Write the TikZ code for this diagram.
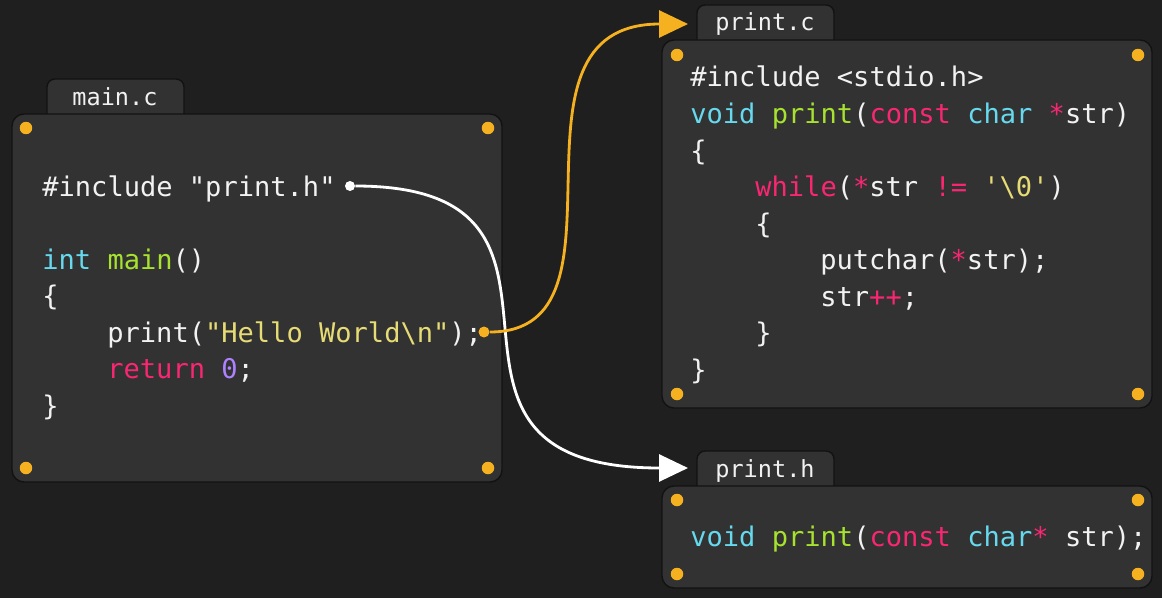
\documentclass[tikz,border=0pt]{standalone}
\usepackage{fontspec}
\setmonofont{DejaVu Sans Mono}
\usetikzlibrary{arrows.meta}
\definecolor{bkg}{HTML}{1F1F1F}
\definecolor{panel}{HTML}{323232}
\definecolor{edge}{HTML}{121212}
\definecolor{dotc}{HTML}{F5B120}
\definecolor{cyn}{HTML}{66D9EF}
\definecolor{grn}{HTML}{A6E22E}
\definecolor{pnk}{HTML}{F92672}
\definecolor{ylw}{HTML}{E6DB74}
\definecolor{prp}{HTML}{AE81FF}
\definecolor{txt}{HTML}{F2F2F2}
\newcommand{\cy}[1]{\textcolor{cyn}{#1}}
\newcommand{\gr}[1]{\textcolor{grn}{#1}}
\newcommand{\pk}[1]{\textcolor{pnk}{#1}}
\newcommand{\ye}[1]{\textcolor{ylw}{#1}}
\newcommand{\pu}[1]{\textcolor{prp}{#1}}
\begin{document}
\begin{tikzpicture}[x=0.02cm,y=-0.02cm]
\tikzstyle{panelbox}=[fill=panel,draw=edge,line width=0.8pt,rounded corners=0.24cm]
\tikzstyle{tabbox}=[fill=panel,draw=edge,line width=0.8pt,rounded corners=0.16cm]
\tikzstyle{corner}=[circle,fill=dotc,inner sep=0pt,minimum size=0.25cm]
\tikzstyle{code}=[anchor=base west,inner sep=0pt,text=txt,font=\ttfamily\fontsize{15.4}{18}\selectfont]
\tikzstyle{tablabel}=[anchor=base,inner sep=0pt,text=txt,font=\ttfamily\fontsize{13.4}{16}\selectfont]
\tikzstyle{arrow}=[line width=1.6pt,-{Triangle[length=0.58cm,width=0.54cm]}]
\fill [bkg] (0,0) rectangle (1162,598);
% main.c
\draw [tabbox] (47,118) -- (47,79) -- (184,79) -- (184,118);
\node [tablabel] (tmain) at (115,105.5) {main.c};
\draw [panelbox] (12,114) rectangle (502,482);
\node [corner] (m1) at (26,128) {};
\node [corner] (m2) at (488,128) {};
\node [corner] (m3) at (26,468) {};
\node [corner] (m4) at (488,468) {};
\node [code] (minc) at (42,196) {\#include "print.h"};
\node [code] (mint) at (42,269) {\cy{int} \gr{main}()};
\node [code] (mopen) at (42,305.5) {\{};
\node [code] (mprint) at (107,342) {print(\ye{"Hello World\textbackslash n"});};
\node [code] (mret) at (107,378.5) {\pk{return} \pu{0};};
\node [code] (mclose) at (42,415) {\}};
% print.c
\draw [tabbox] (697,44) -- (697,5) -- (834,5) -- (834,44);
\node [tablabel] (tpc) at (765,31) {print.c};
\draw [panelbox] (662,40) rectangle (1152,408);
\node [corner] (c1) at (677,55) {};
\node [corner] (c2) at (1138,55) {};
\node [corner] (c3) at (677,394) {};
\node [corner] (c4) at (1138,394) {};
\node [code] (cinc) at (690,87) {\#include <stdio.h>};
\node [code] (cdef) at (690,123.5) {\cy{void} \gr{print}(\pk{const} \cy{char} \pk{*}str)};
\node [code] (copen) at (690,160) {\{};
\node [code] (cwhile) at (755,196.5) {\pk{while}(\pk{*}str \pk{!=} \ye{'\textbackslash 0'})};
\node [code] (copen2) at (755,233) {\{};
\node [code] (cput) at (820,269.5) {putchar(\pk{*}str);};
\node [code] (cinc2) at (820,306) {str\pk{++};};
\node [code] (cclose2) at (755,342.5) {\}};
\node [code] (cclose) at (690,379) {\}};
% print.h
\draw [tabbox] (697,490) -- (697,451) -- (834,451) -- (834,490);
\node [tablabel] (tph) at (765,477) {print.h};
\draw [panelbox] (662,486) rectangle (1152,588);
\node [corner] (h1) at (677,500) {};
\node [corner] (h2) at (1138,500) {};
\node [corner] (h3) at (677,574) {};
\node [corner] (h4) at (1138,574) {};
\node [code] (hdecl) at (690,546) {\cy{void} \gr{print}(\pk{const} \cy{char}\pk{*} str);};
% links
\node [circle,fill=white,inner sep=0pt,minimum size=0.2cm] (incdot) at (350,186) {};
\node [circle,fill=dotc,inner sep=0pt,minimum size=0.22cm] (calldot) at (484,332) {};
\coordinate (hin) at (688,468);
\coordinate (cin) at (688,24);
\draw [arrow,white] (incdot) .. controls +(280,0) and +(-310,0) .. (hin);
\draw [arrow,dotc] (calldot) .. controls +(160,0) and +(-200,0) .. (cin);
\end{tikzpicture}
\end{document}
